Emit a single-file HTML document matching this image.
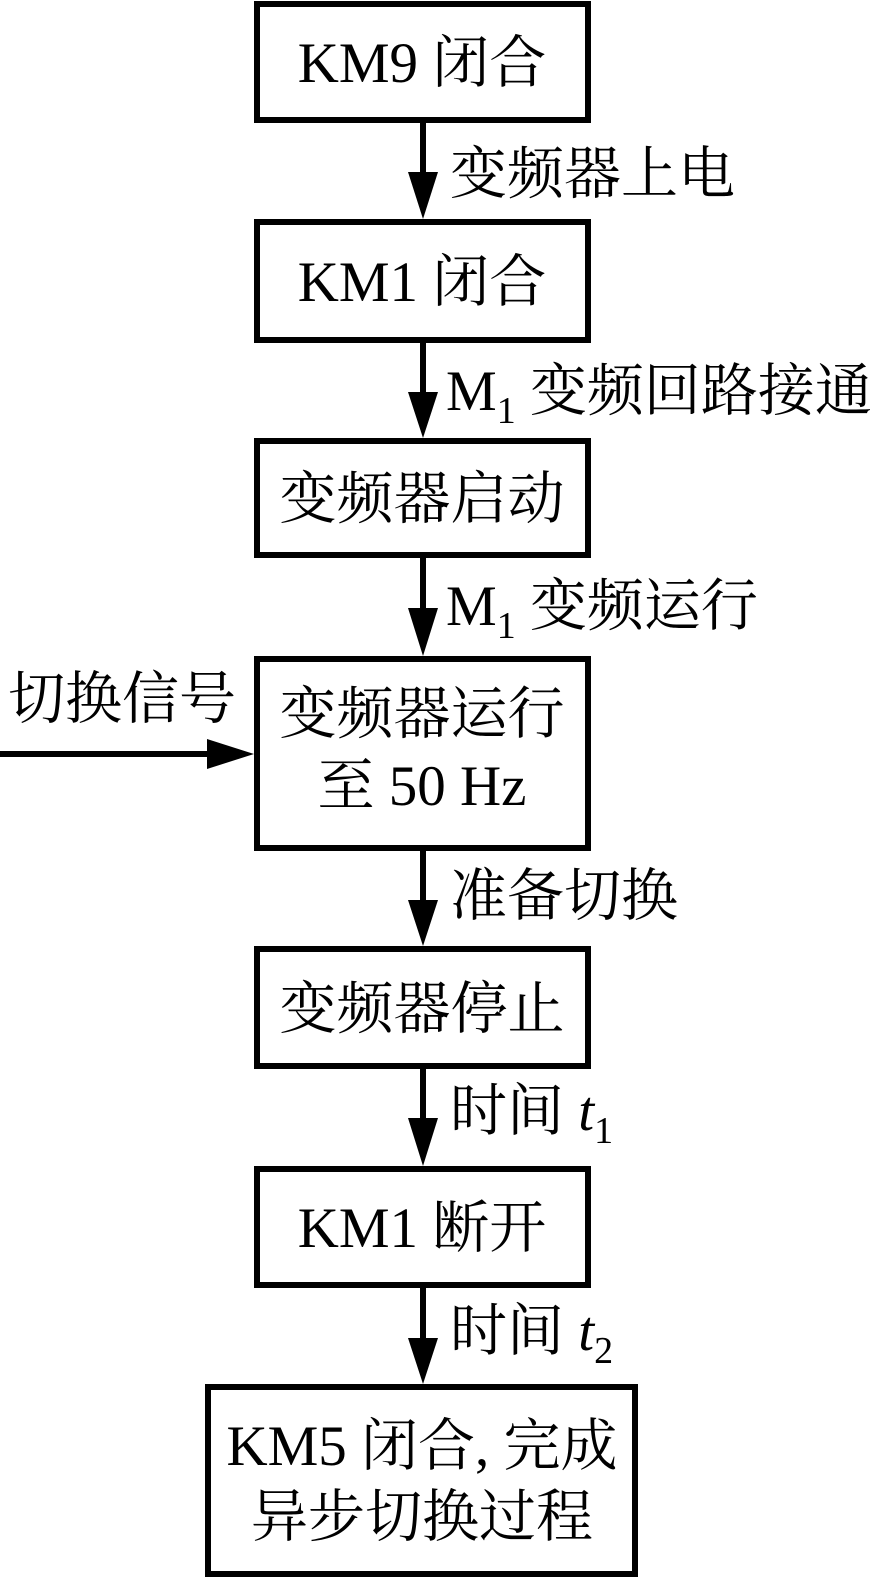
<!DOCTYPE html>
<html><head><meta charset="utf-8"><style>
html,body{margin:0;padding:0;background:#fff;}
svg{display:block;}
text{font-family:"Liberation Serif","Noto Serif CJK SC","Noto Sans CJK SC",serif;fill:#000;}
</style></head><body>
<svg width="890" height="1580" viewBox="0 0 890 1580" xmlns="http://www.w3.org/2000/svg">
<g fill="none" stroke="#000" stroke-width="6">
<rect x="257" y="4" width="331" height="116"/>
<rect x="257" y="222" width="331" height="118"/>
<rect x="257" y="441" width="331" height="114"/>
<rect x="257" y="659" width="331" height="189"/>
<rect x="257" y="949" width="331" height="117"/>
<rect x="257" y="1169" width="331" height="116"/>
<rect x="208" y="1387" width="427" height="187"/>
<line x1="423" y1="120" x2="423" y2="180"/>
<line x1="423" y1="340" x2="423" y2="400"/>
<line x1="423" y1="555" x2="423" y2="615"/>
<line x1="423" y1="848" x2="423" y2="910"/>
<line x1="423" y1="1066" x2="423" y2="1128"/>
<line x1="423" y1="1285" x2="423" y2="1345"/>
<line x1="0" y1="754" x2="210" y2="754"/>
</g>
<g fill="#000">
<polygon points="408,172 438,172 423,219"/>
<polygon points="408,392 438,392 423,438"/>
<polygon points="408,608 438,608 423,656"/>
<polygon points="408,900 438,900 423,946"/>
<polygon points="408,1118 438,1118 423,1166"/>
<polygon points="408,1338 438,1338 423,1384"/>
<polygon points="207,739 207,769 254,754"/>
</g>
<g font-size="57" text-anchor="middle">
<text x="422" y="82">KM9 闭合</text>
<text x="422" y="301">KM1 闭合</text>
<text x="422" y="518">变频器启动</text>
<text x="422" y="733">变频器运行</text>
<text x="422" y="805">至 50 Hz</text>
<text x="422" y="1028">变频器停止</text>
<text x="422" y="1247">KM1 断开</text>
<text x="422" y="1465">KM5 闭合, 完成</text>
<text x="422" y="1536">异步切换过程</text>
</g>
<g font-size="57">
<text x="450" y="193">变频器上电</text>
<text x="446" y="410">M<tspan font-size="38" dy="13">1</tspan><tspan dy="-13"> 变频回路接通</tspan></text>
<text x="446" y="625">M<tspan font-size="38" dy="13">1</tspan><tspan dy="-13"> 变频运行</tspan></text>
<text x="450" y="915">准备切换</text>
<text x="450" y="1130">时间 <tspan font-style="italic">t</tspan><tspan font-size="38" dy="13">1</tspan></text>
<text x="450" y="1350">时间 <tspan font-style="italic">t</tspan><tspan font-size="38" dy="13">2</tspan></text>
<text x="8" y="718">切换信号</text>
</g>
</svg>
</body></html>
